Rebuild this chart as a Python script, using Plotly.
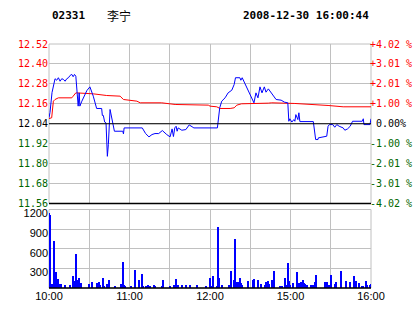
import plotly.graph_objects as go

# ---------------- data ----------------
stock_code = "02331"
stock_name = "李宁"
stamp = "2008-12-30 16:00:44"
prev_close = 12.04

price_levels = [11.56, 11.68, 11.80, 11.92, 12.04, 12.16, 12.28, 12.40, 12.52]
price_labels = ["11.56", "11.68", "11.80", "11.92", "12.04", "12.16", "12.28", "12.40", "12.52"]
pct_labels = ["-4.02 %", "-3.01 %", "-2.01 %", "-1.00 %", "\u00a00.00%", "+1.00 %", "+2.01 %", "+3.01 %", "+4.02 %"]
vol_levels = [300, 600, 900, 1200]
vol_labels = ["300", "600", "900", "1200"]
time_ticks = ["10:00", "10:30", "11:00", "11:30", "12:00", "14:30", "15:00", "15:30", "16:00"]
time_tick_labels = ["10:00", "", "11:00", "", "12:00", "", "15:00", "", "16:00"]

price_time = [
    "10:00:00", "10:00:45", "10:02:15", "10:03:45", "10:04:30", "10:05:45", "10:07:00", "10:08:15",
    "10:09:30", "10:10:45", "10:12:00", "10:13:15", "10:14:30", "10:15:45", "10:17:00", "10:18:00",
    "10:19:00", "10:20:00", "10:20:45", "10:21:15", "10:21:45", "10:22:30", "10:23:00", "10:24:30",
    "10:26:00", "10:28:15", "10:30:30", "10:33:00", "10:35:30", "10:39:15", "10:39:45", "10:40:30",
    "10:41:30", "10:42:30", "10:43:30", "10:44:15", "10:45:30", "10:46:15", "10:48:00", "10:48:45",
    "10:55:00", "10:55:30", "10:56:00", "11:09:30", "11:12:00", "11:14:30", "11:16:45", "11:19:00",
    "11:21:45", "11:24:30", "11:27:45", "11:30:15", "11:31:45", "11:32:45", "11:33:45", "11:34:45",
    "11:35:30", "11:36:15", "11:39:00", "11:42:00", "11:44:30", "11:46:30", "11:48:00", "12:05:30",
    "12:07:15", "12:08:45", "12:11:15", "12:13:30", "12:16:15", "12:18:00", "12:19:00", "12:22:15",
    "12:23:00", "12:24:00", "12:25:15", "12:28:00", "12:30:00", "14:31:15", "14:32:45", "14:34:15",
    "14:35:45", "14:37:15", "14:38:45", "14:40:30", "14:41:45", "14:43:30", "14:44:45", "14:46:00",
    "14:47:45", "14:49:15", "14:53:00", "14:55:30", "14:58:00", "14:58:45", "14:59:30", "15:01:00",
    "15:02:30", "15:03:15", "15:04:00", "15:05:30", "15:06:15", "15:07:00", "15:17:00", "15:18:45",
    "15:20:30", "15:20:45", "15:27:00", "15:28:00", "15:29:00", "15:31:30", "15:33:00", "15:34:30",
    "15:36:15", "15:39:15", "15:40:30", "15:42:30", "15:44:30", "15:46:15", "15:53:30", "15:54:15",
    "15:54:45", "15:59:15", "16:00:00",
]
price = [
    12.076, 12.108, 12.228, 12.296, 12.311, 12.302, 12.317, 12.296,
    12.311, 12.307, 12.296, 12.311, 12.317, 12.331, 12.337, 12.323,
    12.337, 12.326, 12.266, 12.216, 12.146, 12.226, 12.146, 12.176,
    12.204, 12.240, 12.262, 12.206, 12.132, 12.132, 12.090, 12.090,
    12.050, 12.045, 11.844, 11.915, 12.126, 12.095, 12.045, 11.995,
    11.995, 11.979, 12.015, 12.015, 11.981, 11.961, 11.975, 11.981,
    11.981, 11.999, 11.975, 11.961, 12.009, 11.963, 12.015, 12.025,
    11.995, 12.015, 12.001, 12.005, 12.033, 12.025, 12.015, 12.015,
    12.136, 12.176, 12.196, 12.226, 12.242, 12.276, 12.317, 12.317,
    12.302, 12.317, 12.296, 12.246, 12.216, 12.190, 12.166, 12.226,
    12.196, 12.262, 12.226, 12.262, 12.230, 12.250, 12.236, 12.216,
    12.196, 12.186, 12.182, 12.170, 12.166, 12.055, 12.070, 12.050,
    12.065, 12.055, 12.095, 12.065, 12.106, 12.053, 12.053, 11.945,
    11.945, 11.955, 11.965, 12.025, 12.035, 12.035, 12.019, 12.035,
    12.025, 12.015, 12.001, 12.009, 12.025, 12.055, 12.055, 12.070,
    12.035, 12.035, 12.070,
]

avg_time = [
    "10:00:00", "10:02:00", "10:03:15", "10:04:30", "10:07:00", "10:17:00", "10:18:00", "10:20:00",
    "10:33:00", "10:43:00", "10:53:00", "10:55:30", "11:05:30", "11:08:00", "11:24:00", "11:34:00",
    "11:58:45", "12:00:00", "12:05:00", "12:07:30", "12:15:00", "12:18:00", "12:20:00", "12:23:30",
    "14:43:30", "14:46:00", "15:03:15", "15:18:15", "15:28:00", "15:39:15", "16:00:00",
]
avg_price = [
    12.071, 12.076, 12.176, 12.186, 12.196, 12.196, 12.206, 12.226,
    12.220, 12.210, 12.206, 12.186, 12.176, 12.166, 12.166, 12.156,
    12.152, 12.146, 12.142, 12.132, 12.132, 12.136, 12.152, 12.160,
    12.164, 12.166, 12.162, 12.156, 12.150, 12.142, 12.142,
]

vol_time = [
    "10:00", "10:01", "10:02", "10:03", "10:04", "10:05", "10:06", "10:07", "10:08", "10:09",
    "10:12", "10:16", "10:18", "10:19", "10:20", "10:21", "10:22", "10:23", "10:24", "10:30",
    "10:32", "10:36", "10:37", "10:38", "10:40", "10:41", "10:43", "10:44", "10:45", "10:49",
    "10:54", "10:55", "10:56", "10:57", "11:01", "11:04", "11:07", "11:09", "11:10", "11:12",
    "11:13", "11:14", "11:15", "11:18", "11:19", "11:24", "11:25", "11:30", "11:33", "11:34",
    "11:35", "11:36", "11:39", "11:42", "11:45", "11:50", "11:57", "12:00", "12:01", "12:02",
    "12:05", "12:06", "12:07", "12:09", "12:14", "12:16", "12:18", "12:19", "12:20", "12:21",
    "12:22", "12:23", "12:24", "12:28", "14:32", "14:33", "14:36", "14:38", "14:41", "14:42",
    "14:43", "14:44", "14:46", "14:48", "14:52", "14:54", "14:56", "14:57", "14:58", "14:59",
    "15:00", "15:02", "15:05", "15:06", "15:07", "15:08", "15:09", "15:10", "15:11", "15:12",
    "15:15", "15:17", "15:18", "15:19", "15:26", "15:27", "15:29", "15:30", "15:33", "15:34",
    "15:38", "15:41", "15:44", "15:47", "15:49", "15:51", "15:53", "15:54", "15:56", "15:57",
    "15:59", "16:00",
]
volume = [
    1150, 1130, 76, 66, 721, 254, 142, 142, 66, 66,
    51, 51, 188, 117, 523, 127, 168, 36, 81, 71,
    96, 81, 96, 51, 157, 41, 76, 51, 127, 36,
    66, 401, 51, 36, 36, 279, 127, 218, 36, 36,
    41, 51, 36, 51, 36, 41, 127, 36, 51, 36,
    142, 51, 51, 51, 51, 51, 36, 157, 36, 188,
    36, 939, 157, 51, 51, 264, 127, 751, 102, 96,
    157, 91, 51, 112, 127, 142, 127, 66, 51, 96,
    112, 66, 127, 264, 36, 36, 168, 51, 386, 112,
    51, 81, 249, 81, 51, 96, 127, 81, 66, 51,
    51, 51, 96, 203, 96, 96, 51, 203, 66, 96,
    264, 112, 96, 188, 112, 81, 36, 36, 122, 51,
    51, 66,
]


# ---------------- helpers ----------------
def session_minutes(t):
    parts = [int(p) for p in t.split(":")]
    h, m = parts[0], parts[1]
    s = parts[2] if len(parts) > 2 else 0
    tot = h * 60 + m + s / 60.0
    if tot <= 12 * 60 + 30:
        return tot - 10 * 60
    return tot - (14 * 60 + 30) + 150


px_ = [session_minutes(t) for t in price_time]
ax_ = [session_minutes(t) for t in avg_time]
vx_ = [session_minutes(t) for t in vol_time]
tick_x = [session_minutes(t) for t in time_ticks]

RED = "#ff0000"
GREEN = "#006600"
GRID = "#c0c0c0"
MONO = "DejaVu Sans Mono"
SANS = "Liberation Sans"


def col_label(v, txt):
    if abs(v - prev_close) < 1e-9:
        c = "#000000"
    elif v > prev_close:
        c = RED
    else:
        c = GREEN
    return '<span style="color:%s">%s</span>' % (c, txt)


left_text = [col_label(v, t) for v, t in zip(price_levels, price_labels)]
right_text = [col_label(v, t) for v, t in zip(price_levels, pct_labels)]

fig = go.Figure()
fig.add_trace(go.Scatter(x=ax_, y=avg_price, mode="lines", line=dict(color=RED, width=1),
                         xaxis="x", yaxis="y", hoverinfo="skip", showlegend=False))
fig.add_trace(go.Scatter(x=px_, y=price, mode="lines", line=dict(color="#0000ff", width=1),
                         xaxis="x", yaxis="y2", hoverinfo="skip", showlegend=False))
fig.add_trace(go.Bar(x=vx_, y=volume, width=0.75, marker=dict(color="#0000ff", line=dict(width=0)),
                     xaxis="x2", yaxis="y3", hoverinfo="skip", showlegend=False))

xr = [tick_x[0], tick_x[-1]]
yr = [price_levels[0], price_levels[-1]]
price_dom = [0.3463, 1.0]
vol_dom = [0.0, 0.3217]

fig.update_layout(
    width=414, height=314,
    margin=dict(l=49, r=43, t=44, b=26, autoexpand=False),
    paper_bgcolor="white", plot_bgcolor="white",
    bargap=0,
    xaxis=dict(range=xr, tickvals=tick_x, ticktext=["" for _ in tick_x], showgrid=True,
               gridcolor=GRID, gridwidth=1, zeroline=False, showline=False, ticks="",
               anchor="y", domain=[0, 1], automargin=False),
    xaxis2=dict(range=xr, tickvals=tick_x, ticktext=time_tick_labels, showgrid=True,
                gridcolor=GRID, gridwidth=1, zeroline=False, showline=False, ticks="",
                anchor="y3", domain=[0, 1], automargin=False,
                tickfont=dict(family=SANS, size=11, color="black")),
    yaxis=dict(range=yr, tickvals=price_levels, ticktext=left_text, showgrid=True,
               gridcolor=GRID, gridwidth=1, zeroline=False, showline=False, ticks="",
               domain=price_dom, anchor="x", automargin=False, ticklabelstandoff=0,
               tickfont=dict(family=MONO, size=10)),
    yaxis2=dict(range=yr, tickvals=price_levels, ticktext=right_text, showgrid=False,
                zeroline=False, showline=False, ticks="", overlaying="y", side="right",
                anchor="x", automargin=False, ticklabelstandoff=-2,
                tickfont=dict(family=MONO, size=10)),
    yaxis3=dict(range=[0, vol_levels[-1]], tickvals=vol_levels, ticktext=vol_labels, showgrid=True,
                gridcolor=GRID, gridwidth=1, zeroline=False, showline=False, ticks="",
                domain=vol_dom, anchor="x2", automargin=False, ticklabelstandoff=0,
                ticklabelshift=4,
                tickfont=dict(family=SANS, size=11, color="black")),
    shapes=[
        dict(type="rect", xref="x domain", yref="y domain", x0=0, x1=1, y0=0, y1=1,
             line=dict(color=GRID, width=1), layer="below"),
        dict(type="rect", xref="x2 domain", yref="y3 domain", x0=0, x1=1, y0=0, y1=1,
             line=dict(color=GRID, width=1), layer="below"),
        dict(type="line", xref="x domain", yref="y", x0=0, x1=1, y0=prev_close, y1=prev_close,
             line=dict(color="black", width=1)),
        dict(type="line", xref="x domain", yref="y domain", x0=0, x1=1, y0=0, y1=0,
             line=dict(color="black", width=1.5)),
        dict(type="line", xref="x2 domain", yref="y3 domain", x0=0, x1=1, y0=0, y1=0,
             line=dict(color="black", width=1.5)),
    ],
    annotations=[
        dict(text="<b>%s</b>" % stock_code, xref="paper", yref="paper", x=0.003, y=1.115,
             xanchor="left", yanchor="middle", showarrow=False,
             font=dict(family=MONO, size=11, color="black")),
        dict(text=stock_name, xref="paper", yref="paper", x=0.174, y=1.115,
             xanchor="left", yanchor="middle", showarrow=False,
             font=dict(family="Noto Sans CJK SC", size=12, color="black")),
        dict(text="<b>%s</b>" % stamp, xref="paper", yref="paper", x=1.0, y=1.115,
             xanchor="right", yanchor="middle", showarrow=False,
             font=dict(family=MONO, size=11, color="black")),
    ],
)

fig.write_html("out.html")
